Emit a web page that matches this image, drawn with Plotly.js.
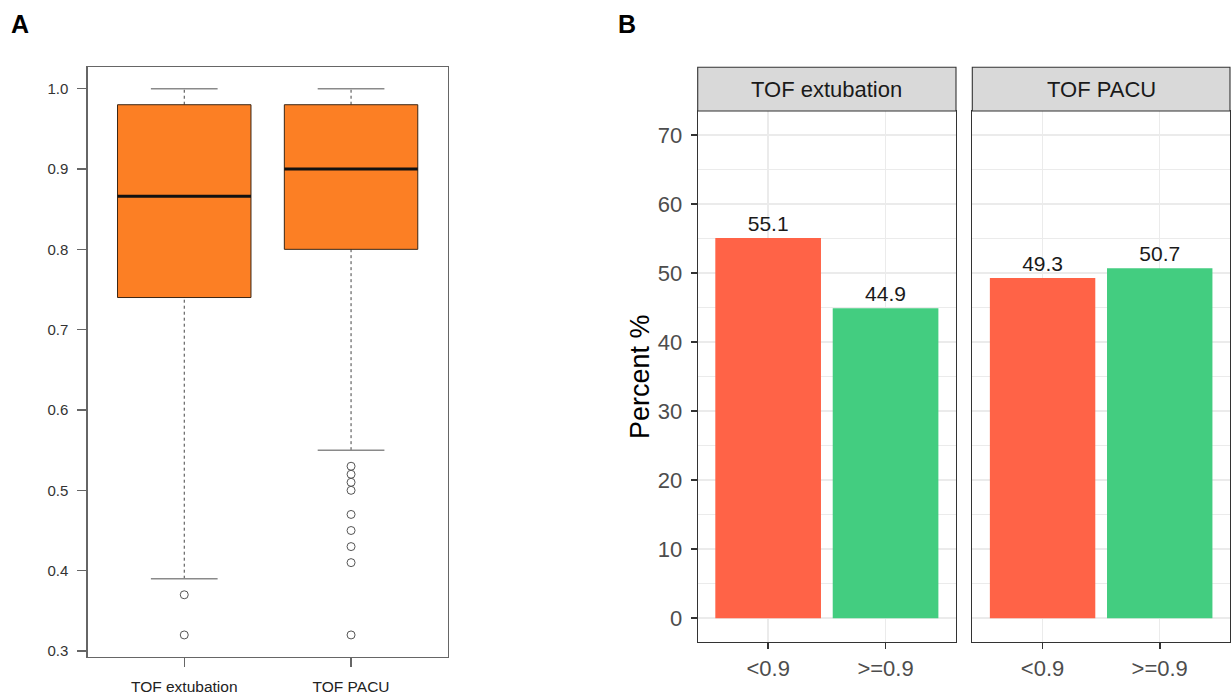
<!DOCTYPE html>
<html>
<head>
<meta charset="utf-8">
<script src="https://cdn.plot.ly/plotly-3.0.1.min.js"></script>
<style>html,body{margin:0;padding:0;background:#fff;}#chart{width:1232px;height:695px;}</style>
</head>
<body>
<div id="chart"></div>
<script>
// ---------- Data: panel A (box plot summary) ----------
const groupsA = ['TOF extubation', 'TOF PACU'];
const lowerWhisker = [0.39, 0.55];
const q1 = [0.74, 0.80];
const median = [0.866, 0.90];
const q3 = [0.98, 0.98];
const upperWhisker = [1.0, 1.0];
const outliersExtubation = [0.37, 0.32];
const outliersPacu = [0.53, 0.52, 0.51, 0.50, 0.47, 0.45, 0.43, 0.41, 0.32];
const yTicksA = [0.3, 0.4, 0.5, 0.6, 0.7, 0.8, 0.9, 1.0];

// ---------- Data: panel B (faceted bars) ----------
const facetTitles = ['TOF extubation', 'TOF PACU'];
const thresholds = ['<0.9', '>=0.9'];
const pctExtubation = [55.1, 44.9];
const pctPacu = [49.3, 50.7];
const yTicksB = [0, 10, 20, 30, 40, 50, 60, 70];

// ---------- Styles ----------
const FONT = 'Liberation Sans, Arial, Helvetica, sans-serif';
const BOX_HALF = 0.4, CAP_HALF = 0.2;
const ORANGE = '#FC7F24';
const BAR_COLORS = ['#FF6347', '#43CD80'];
const W = 1232, H = 695;
const px = v => v / W, py = v => (H - v) / H;

const traces = [];
const outlierSets = [outliersExtubation, outliersPacu];
groupsA.forEach((g, i) => {
  const xc = i + 1;
  // whiskers (dashed)
  traces.push({x: [xc, xc], y: [lowerWhisker[i], q1[i]], xaxis: 'x', yaxis: 'y', mode: 'lines',
    line: {color: '#444', width: 1, dash: '3px,3px'}, hoverinfo: 'skip', showlegend: false});
  traces.push({x: [xc, xc], y: [q3[i], upperWhisker[i]], xaxis: 'x', yaxis: 'y', mode: 'lines',
    line: {color: '#444', width: 1, dash: '3px,3px'}, hoverinfo: 'skip', showlegend: false});
  // caps
  traces.push({x: [xc - CAP_HALF, xc + CAP_HALF], y: [lowerWhisker[i], lowerWhisker[i]], xaxis: 'x', yaxis: 'y', mode: 'lines',
    line: {color: '#8a8a8a', width: 1.5}, hoverinfo: 'skip', showlegend: false});
  traces.push({x: [xc - CAP_HALF, xc + CAP_HALF], y: [upperWhisker[i], upperWhisker[i]], xaxis: 'x', yaxis: 'y', mode: 'lines',
    line: {color: '#8a8a8a', width: 1.5}, hoverinfo: 'skip', showlegend: false});
  // box
  traces.push({x: [xc - BOX_HALF, xc + BOX_HALF, xc + BOX_HALF, xc - BOX_HALF, xc - BOX_HALF],
    y: [q1[i], q1[i], q3[i], q3[i], q1[i]], xaxis: 'x', yaxis: 'y', mode: 'lines', fill: 'toself',
    fillcolor: ORANGE, line: {color: '#3b2614', width: 1}, hoverinfo: 'skip', showlegend: false});
  // median
  traces.push({x: [xc - BOX_HALF, xc + BOX_HALF], y: [median[i], median[i]], xaxis: 'x', yaxis: 'y', mode: 'lines',
    line: {color: '#111', width: 3}, hoverinfo: 'skip', showlegend: false});
  // outliers
  traces.push({x: outlierSets[i].map(() => xc), y: outlierSets[i], xaxis: 'x', yaxis: 'y', mode: 'markers',
    marker: {symbol: 'circle-open', size: 8, color: '#555', line: {width: 1, color: '#555'}},
    hoverinfo: 'skip', showlegend: false});
});

// Panel B bars
[pctExtubation, pctPacu].forEach((vals, k) => {
  traces.push({type: 'bar', x: thresholds, y: vals, xaxis: k === 0 ? 'x2' : 'x3', yaxis: k === 0 ? 'y2' : 'y3',
    width: 0.9, marker: {color: BAR_COLORS, line: {width: 0}},
    text: vals.map(v => v.toFixed(1)), textposition: 'outside', cliponaxis: false,
    textfont: {family: FONT, size: 21, color: '#1a1a1a'}, hoverinfo: 'skip', showlegend: false});
});

// domains
const domAx = [px(87.5), px(447.8)];
const domAy = [py(656.8), py(66.8)];
const domB1 = [px(697.7), px(956)];
const domB2 = [px(972.3), px(1230)];
const domBy = [py(642.3), py(111)];
const stripY = [py(111), py(67.3)];

const axB_x = (dom, anchor) => ({domain: dom, anchor: anchor, type: 'category', range: [-0.6, 1.6],
  showline: true, mirror: true, linecolor: '#333', linewidth: 1.1,
  showgrid: true, gridcolor: '#EBEBEB', gridwidth: 1.5, zeroline: false,
  ticks: 'outside', ticklen: 6, tickwidth: 1.6, tickcolor: '#333',
  tickfont: {family: FONT, size: 22, color: '#4D4D4D'}, fixedrange: true});
const axB_y = (anchor, showLabels) => ({domain: domBy, anchor: anchor, range: [-3.5, 73.5],
  tickvals: yTicksB, showline: true, mirror: true, linecolor: '#333', linewidth: 1.1,
  showgrid: true, gridcolor: '#EBEBEB', gridwidth: 1.5, zeroline: false,
  minor: {showgrid: true, gridcolor: '#EBEBEB', gridwidth: 1, tickvals: yTicksB.map(v => v + 5)},
  ticks: showLabels ? 'outside' : '', ticklen: 6, tickwidth: 1.6, tickcolor: '#333',
  showticklabels: showLabels, ticklabelstandoff: 4,
  tickfont: {family: FONT, size: 22, color: '#4D4D4D'}, fixedrange: true});

const layout = {
  width: W, height: H, margin: {l: 0, r: 0, t: 0, b: 0},
  paper_bgcolor: '#fff', plot_bgcolor: '#fff', showlegend: false,
  font: {family: FONT},
  xaxis: {domain: domAx, anchor: 'y', range: [0.42, 2.58], tickvals: [1, 2], ticktext: groupsA,
    showline: true, mirror: true, linecolor: '#666', linewidth: 1.2, showgrid: false, zeroline: false,
    ticks: 'outside', ticklen: 9, tickwidth: 1.2, tickcolor: '#666', ticklabelstandoff: 6,
    tickfont: {family: FONT, size: 15.5, color: '#222'}, fixedrange: true},
  yaxis: {domain: domAy, anchor: 'x', range: [0.2928, 1.0272], tickvals: yTicksA, tickformat: '.1f',
    showline: true, mirror: true, linecolor: '#666', linewidth: 1.2, showgrid: false, zeroline: false,
    ticks: 'outside', ticklen: 9, tickwidth: 1.2, tickcolor: '#666', ticklabelstandoff: 6,
    tickfont: {family: FONT, size: 15, color: '#333'}, fixedrange: true},
  xaxis2: axB_x(domB1, 'y2'),
  xaxis3: axB_x(domB2, 'y3'),
  yaxis2: Object.assign(axB_y('x2', true), {title: {text: 'Percent %', standoff: 0,
    font: {family: FONT, size: 27, color: '#000'}}}),
  yaxis3: Object.assign(axB_y('x3', false), {matches: 'y2'}),
  bargap: 0.1,
  shapes: [
    {type: 'rect', xref: 'paper', yref: 'paper', x0: domB1[0], x1: domB1[1], y0: stripY[0], y1: stripY[1],
      fillcolor: '#D9D9D9', line: {color: '#333', width: 1.1}},
    {type: 'rect', xref: 'paper', yref: 'paper', x0: domB2[0], x1: domB2[1], y0: stripY[0], y1: stripY[1],
      fillcolor: '#D9D9D9', line: {color: '#333', width: 1.1}}
  ],
  annotations: [
    {text: facetTitles[0], xref: 'paper', yref: 'paper', x: (domB1[0] + domB1[1]) / 2, y: (stripY[0] + stripY[1]) / 2,
      xanchor: 'center', yanchor: 'middle', showarrow: false, font: {family: FONT, size: 22, color: '#1A1A1A'}},
    {text: facetTitles[1], xref: 'paper', yref: 'paper', x: (domB2[0] + domB2[1]) / 2, y: (stripY[0] + stripY[1]) / 2,
      xanchor: 'center', yanchor: 'middle', showarrow: false, font: {family: FONT, size: 22, color: '#1A1A1A'}},
    {text: '<b>A</b>', xref: 'paper', yref: 'paper', x: px(9), y: py(8), xanchor: 'left', yanchor: 'top',
      showarrow: false, font: {family: FONT, size: 25, color: '#000'}},
    {text: '<b>B</b>', xref: 'paper', yref: 'paper', x: px(616), y: py(8), xanchor: 'left', yanchor: 'top',
      showarrow: false, font: {family: FONT, size: 25, color: '#000'}}
  ]
};

Plotly.newPlot('chart', traces, layout, {displayModeBar: false, staticPlot: true});
</script>
</body>
</html>
